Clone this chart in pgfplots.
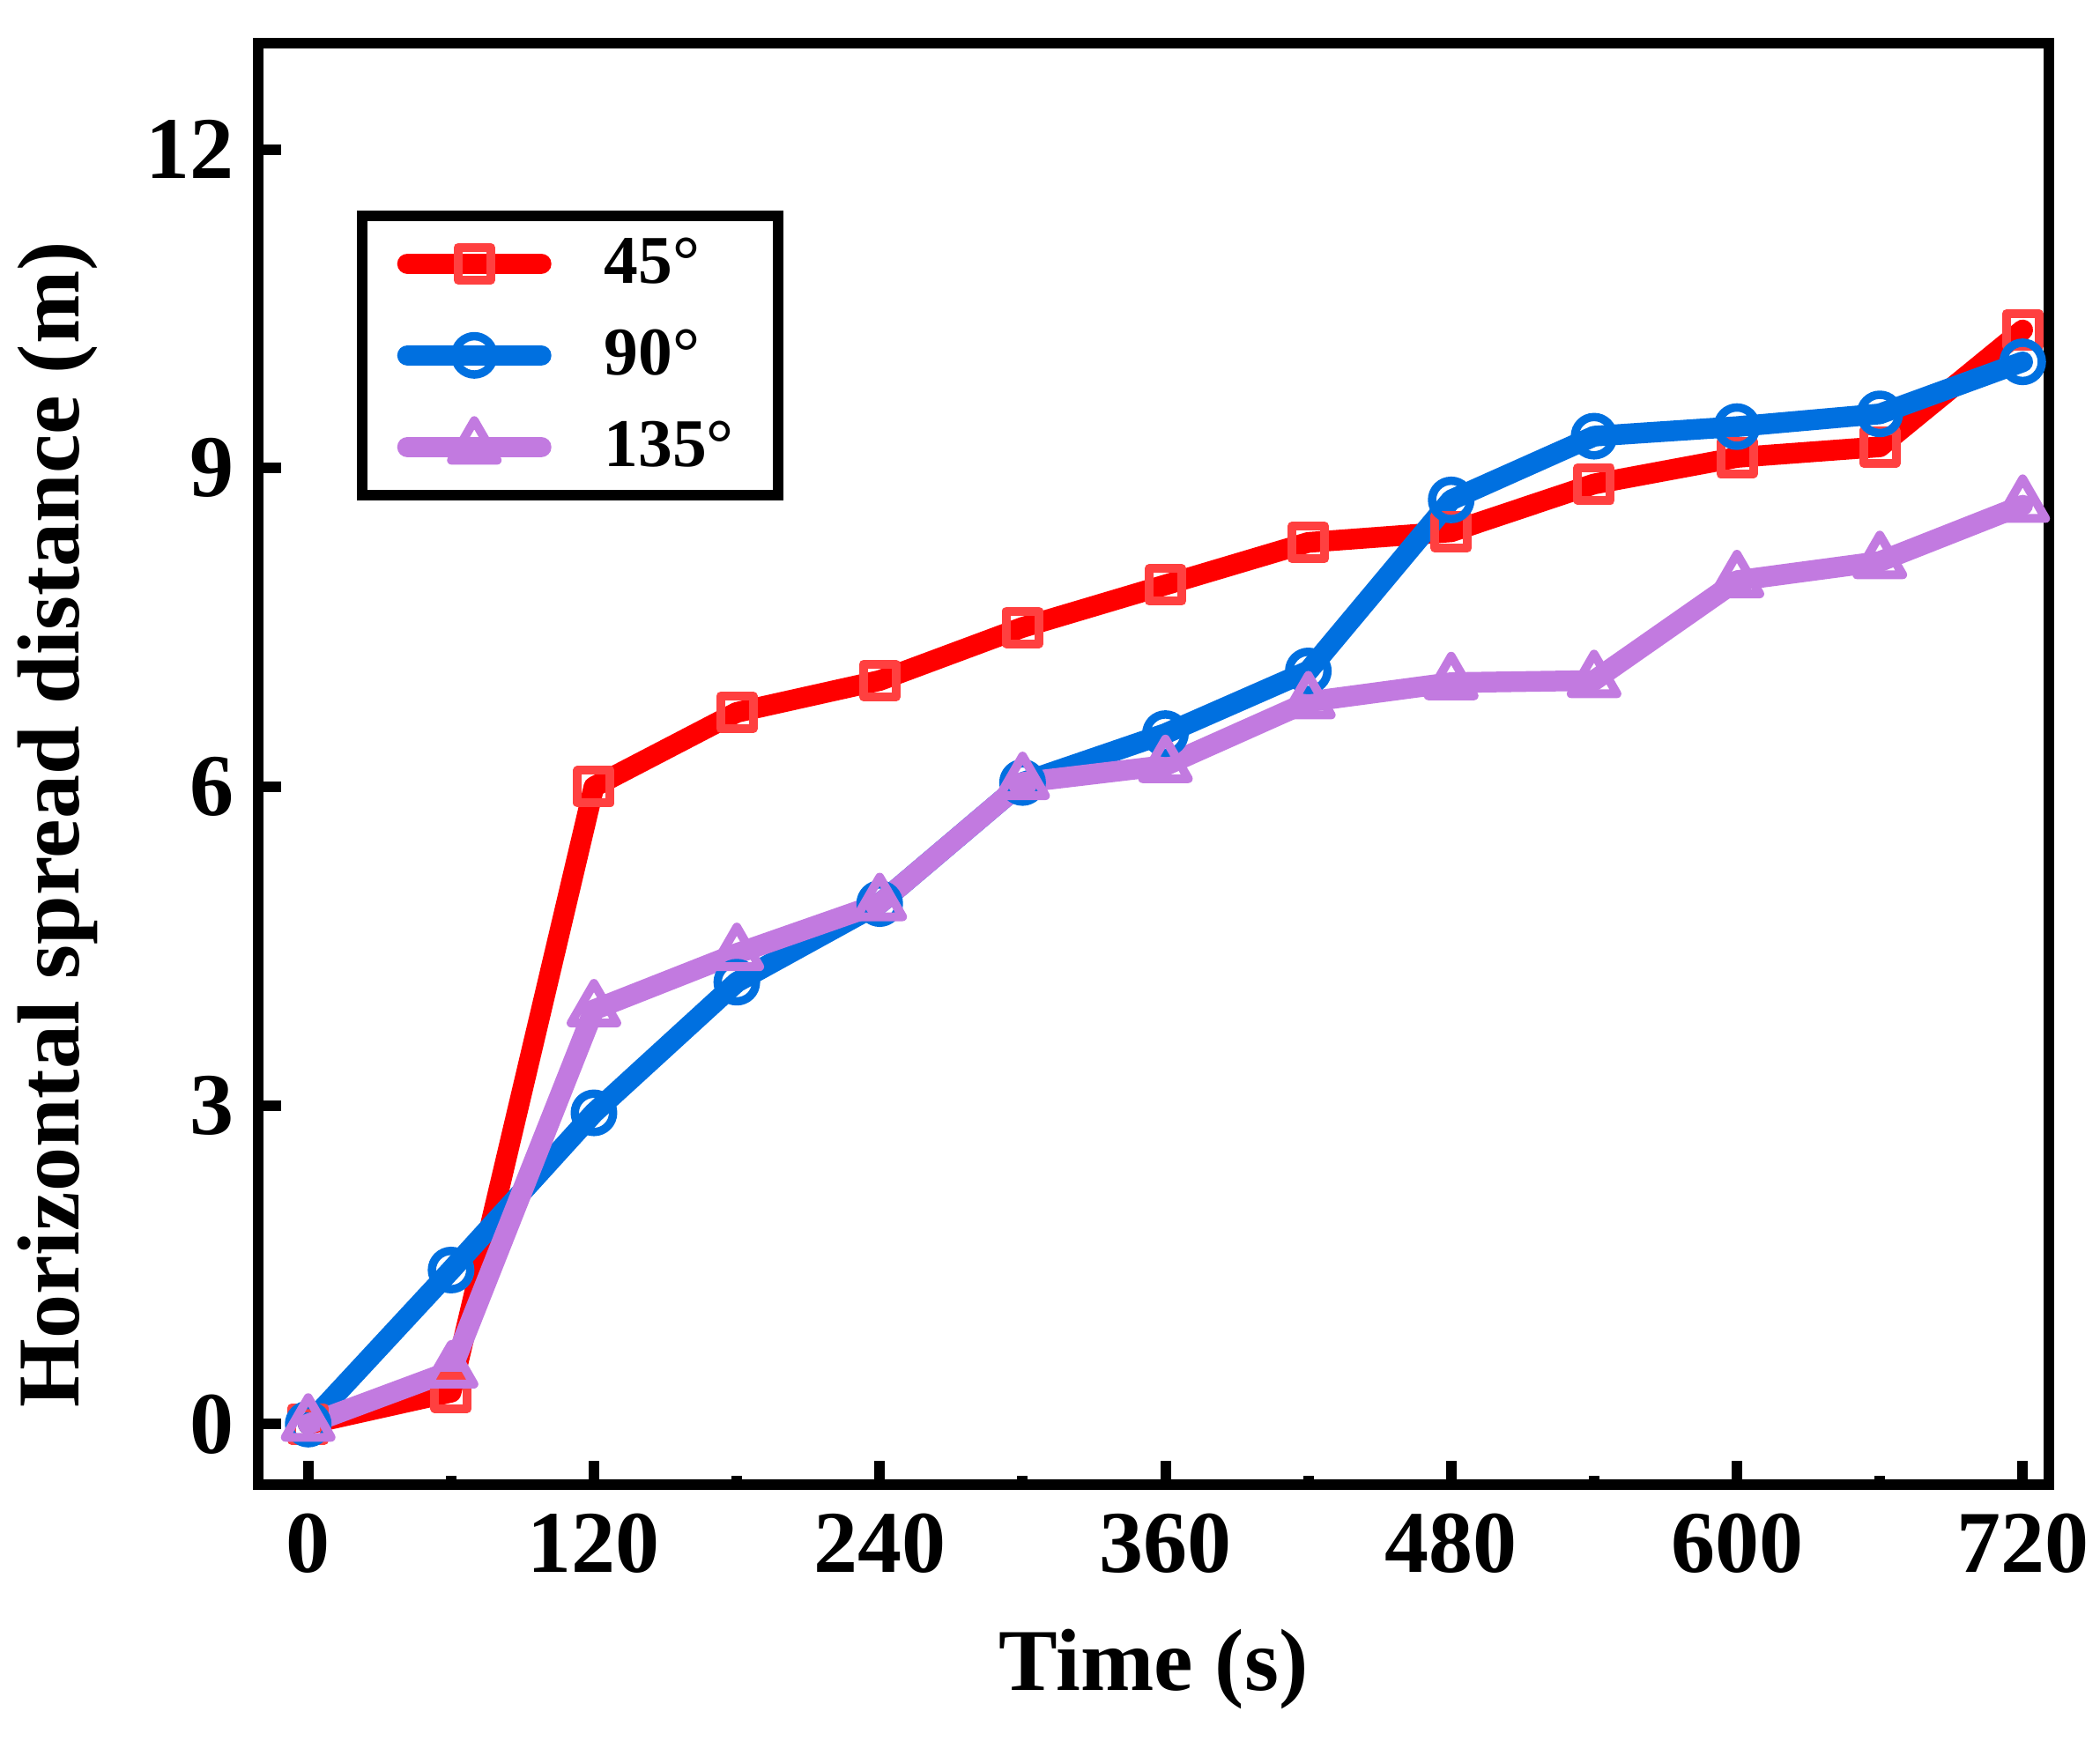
\documentclass[border=0pt]{standalone}
\usepackage{pgfplots}
\pgfplotsset{compat=1.18}
\usepackage{fontspec}
\setmainfont{Liberation Serif}
\usetikzlibrary{calc}
\definecolor{cred}{RGB}{255,0,0}
\definecolor{mred}{RGB}{255,64,64}
\definecolor{cblue}{RGB}{0,112,224}
\definecolor{cpurp}{RGB}{194,122,224}
\begin{document}
\begin{tikzpicture}
\begin{axis}[
  name=ax,
  width=406.4pt, height=327.2pt, scale only axis,
  xmin=-21, xmax=731, ymin=-0.57, ymax=13,
  xtick={0,120,240,360,480,600,720},
  minor xtick={60,180,300,420,540,660},
  ytick={0,3,6,9,12},
  xtick pos=bottom, ytick pos=left,
  tick align=inside,
  major tick length=5.3pt, minor tick length=2pt,
  tick style={line width=2.4pt, black},
  axis line style={line width=2.5pt},
  every axis/.append style={line width=2.5pt},
  /pgf/number format/assume math mode=true,
  ticklabel style={font=\fontsize{20}{24}\selectfont\bfseries},
  xticklabel style={yshift=-2pt},
  yticklabel style={xshift=-1pt},
  xlabel={Time (s)},
  ylabel={Horizontal spread distance (m)},
  label style={font=\fontsize{20}{24}\selectfont\bfseries},
  xlabel style={at={(axis description cs:0.5,-0.128)}, anchor=center},
  ylabel style={at={(axis description cs:-0.112,0.458)}, anchor=center},
  legend style={at={(axis description cs:0.055,0.884)}, anchor=north west,
    draw=black, line width=2.4pt, font=\fontsize{15.5}{18}\selectfont\bfseries,
    row sep=5pt, inner xsep=8pt, inner ysep=3pt,
    /tikz/every odd column/.append style={column sep=10pt}},
  legend cell align=left,
  legend image code/.code={\draw[mark repeat=2,mark phase=2,#1] plot coordinates {(0pt,0pt) (15.15pt,0pt) (30.3pt,0pt)};},
  every axis plot/.append style={line width=4.7pt, line cap=round, line join=round},
]
\addplot[cred, mark=square, mark size=3.7pt, mark options={solid, fill=white, draw=mred, line width=2pt}] coordinates {
(0,0) (60,0.3) (120,6.0) (180,6.7) (240,7.0) (300,7.5) (360,7.9) (420,8.3) (480,8.4) (540,8.85) (600,9.1) (660,9.2) (720,10.3)};
\addplot[cblue, mark=o, mark size=4.35pt, mark options={solid, fill=white, draw=cblue, line width=1.9pt}] coordinates {
(0,0) (60,1.45) (120,2.93) (180,4.16) (240,4.9) (300,6.04) (360,6.5) (420,7.09) (480,8.7) (540,9.3) (600,9.39) (660,9.51) (720,10.0)};
\addplot[cpurp, mark=triangle, mark size=6pt, mark options={solid, fill=white, draw=cpurp, line width=2pt}] coordinates {
(0,0) (60,0.5) (120,3.9) (180,4.43) (240,4.9) (300,6.04) (360,6.2) (420,6.8) (480,6.98) (540,7.0) (600,7.94) (660,8.12) (720,8.65)};
\legend{45\textdegree\hspace{-7pt}, 90\textdegree\hspace{-7pt}, 135\textdegree\hspace{-7pt}}
\end{axis}
\pgfresetboundingbox
\path ($(ax.south west)+(-58.6pt,-61.6pt)$) rectangle ($(ax.north east)+(11.6pt,9.8pt)$);
\end{tikzpicture}
\end{document}
